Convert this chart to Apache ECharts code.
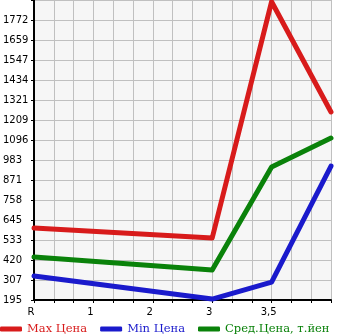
<!DOCTYPE html>
<html>
<head>
<meta charset="utf-8">
<script src="https://cdn.jsdelivr.net/npm/echarts@6/dist/echarts.min.js"></script>
<style>html,body{margin:0;padding:0;background:#fff}#c{width:345px;height:335px}</style>
</head>
<body>
<div id="c"></div>
<script>
var categories = ['R','','','1','','','2','','','3','','','3,5','','',''];
var maxPrice = [600,null,null,null,null,null,null,null,null,544,null,null,1875,null,null,1254];
var minPrice = [330,null,null,null,null,null,null,null,null,200,null,null,296,null,null,949];
var avgPrice = [437,null,null,null,null,null,null,null,null,364,null,null,944,null,null,1107];
var yTickLabels = ['195','307','420','533','645','758','871','983','1096','1209','1321','1434','1547','1659','1772',''];
var seriesNames = ['Max Цена','Min Цена','Сред.Цена, т.йен'];
var colors = ['#d81b1b','#1a1acc','#0a820a'];

var yMin = 194.8, yStep = 112.65;
var chart = echarts.init(document.getElementById('c'), null, {renderer:'canvas'});
var axisFont = 'DejaVu Sans';
var legendFont = 'DejaVu Serif';
chart.setOption({
  animation:false,
  backgroundColor:'#ffffff',
  grid:{left:31,right:14,top:0,bottom:35,show:true,backgroundColor:'#f6f6f6',borderWidth:0},
  legend:{
    left:0, bottom:0, padding:0, itemWidth:22, itemHeight:5, itemGap:13, icon:'roundRect',
    textStyle:{fontFamily:legendFont,fontSize:11.5},
    data:seriesNames.map(function(n,i){return {name:n,textStyle:{color:colors[i]}};})
  },
  xAxis:{
    type:'category', data:categories, boundaryGap:false,
    axisLine:{lineStyle:{color:'#000',width:2}},
    axisTick:{show:true,interval:0,length:3,lineStyle:{color:'#000'}},
    axisLabel:{interval:0,color:'#000',fontFamily:axisFont,fontSize:10,margin:7,padding:[0,6,0,0]},
    splitLine:{show:true,interval:0,lineStyle:{color:'#c0c0c0',width:1}}
  },
  yAxis:{
    type:'value', min:yMin, max:yMin+15*yStep, interval:yStep,
    axisLine:{show:true,lineStyle:{color:'#000',width:2}},
    axisTick:{show:true,length:3,lineStyle:{color:'#000'}},
    axisLabel:{color:'#000',fontFamily:axisFont,fontSize:10,margin:31,align:'left',padding:[0,0,11,0],
      formatter:function(v,i){return yTickLabels[i]!==undefined?yTickLabels[i]:'';}},
    splitLine:{show:true,lineStyle:{color:'#c0c0c0',width:1}}
  },
  series:[maxPrice,minPrice,avgPrice].map(function(d,i){
    return {name:seriesNames[i],type:'line',data:d,connectNulls:true,showSymbol:false,symbol:'none',
      color:colors[i],lineStyle:{width:5,color:colors[i],cap:'round',join:'round'}};
  })
});
</script>
</body>
</html>
